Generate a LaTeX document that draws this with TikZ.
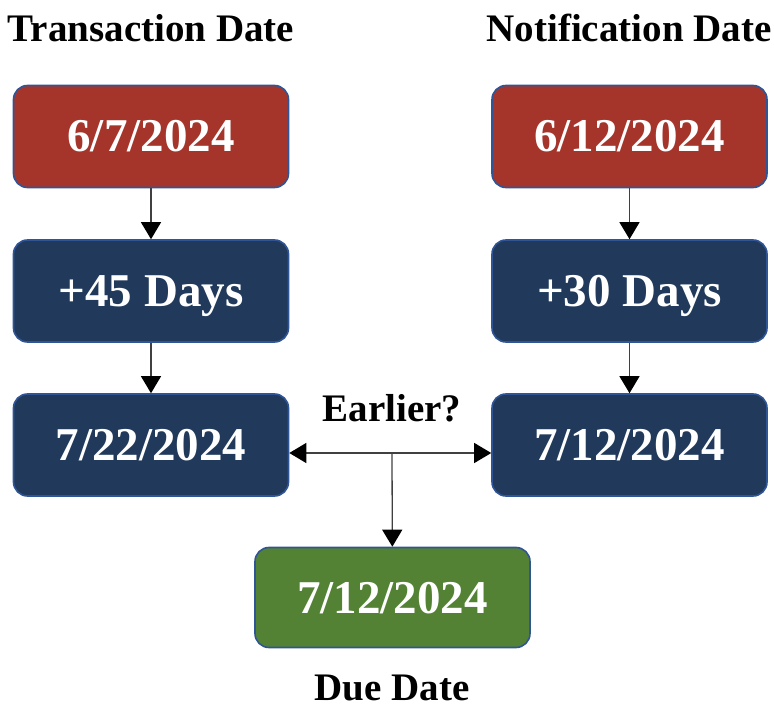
\documentclass[tikz,border=0pt]{standalone}
\usepackage{fontspec}
\setmainfont{Liberation Serif}
\usetikzlibrary{arrows.meta, positioning, calc}

\definecolor{datered}{HTML}{A5352B}
\definecolor{datenavy}{HTML}{213A5B}
\definecolor{dategreen}{HTML}{548235}
\definecolor{dateedge}{HTML}{2F5597}

\begin{document}
\begin{tikzpicture}[x=1pt, y=-1pt,
    datebox/.style={rectangle, rounded corners=14pt, draw=dateedge, line width=1.6pt,
        minimum width=275pt, minimum height=102pt, text=white,
        font=\fontsize{47}{47}\selectfont\bfseries, text height=31pt, text depth=0pt},
    caption/.style={font=\fontsize{39}{39}\selectfont\bfseries, anchor=base},
    link/.style={draw=black!75, line width=1.3pt, -{Triangle[width=20pt, length=17pt, color=black]}}]
    \useasboundingbox (0,0) rectangle (774,708);

    % headings
    \node[caption] (th) at (151,42) {Transaction Date};
    \node[caption] (nh) at (629,42) {Notification Date};

    % left column
    \node[datebox, fill=datered] (t1) at (151,136.5) {6/7/2024};
    \node[datebox, fill=datenavy] (t2) at (151,291) {+45 Days};
    \node[datebox, fill=datenavy] (t3) at (151,445) {7/22/2024};

    % right column
    \node[datebox, fill=datered] (n1) at (629.5,136.5) {6/12/2024};
    \node[datebox, fill=datenavy] (n2) at (629.5,291) {+30 Days};
    \node[datebox, fill=datenavy] (n3) at (629.5,445) {7/12/2024};

    % result
    \node[datebox, fill=dategreen, minimum height=100pt] (due) at (392.5,597.5) {7/12/2024};
    \node[caption] (dh) at (392,700) {Due Date};
    \node[caption] (q) at (392,422) {Earlier?};

    \draw[link] (t1) -- (t2);
    \draw[link] (t2) -- (t3);
    \draw[link] (n1) -- (n2);
    \draw[link] (n2) -- (n3);

    \coordinate (split) at (392,453);
    \draw[link] (split) -- (split -| t3.east);
    \draw[link] (split) -- (split -| n3.west);
    \draw[link] (split) -- (due);
\end{tikzpicture}
\end{document}
